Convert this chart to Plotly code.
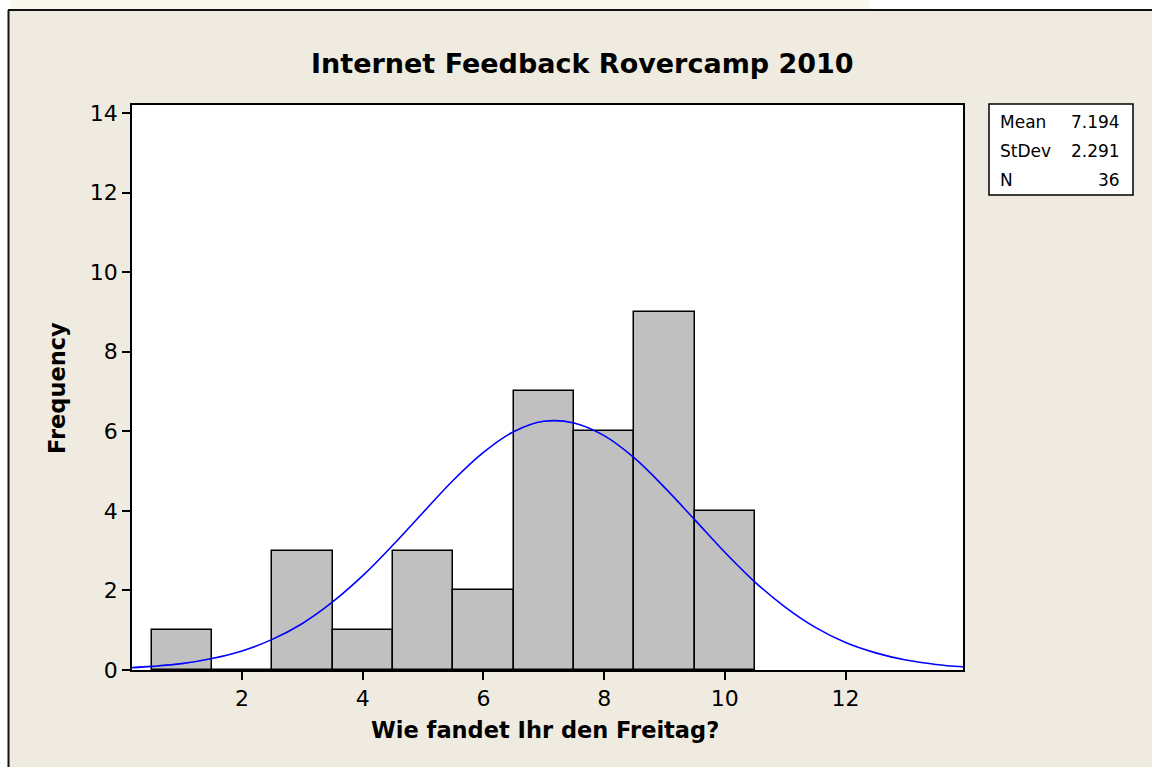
import plotly.graph_objects as go

# Histogram data
bin_centers = [1, 2, 3, 4, 5, 6, 7, 8, 9, 10]
counts = [1, 0, 3, 1, 3, 2, 7, 6, 9, 4]

# Fitted normal curve points
curve_x = [0.18, 0.5, 1, 1.5, 2, 2.5, 3, 3.5, 4, 4.5, 5, 5.5, 6, 6.5, 7, 7.5,
           8, 8.5, 9, 9.5, 10, 10.5, 11, 11.5, 12, 12.5, 13, 13.5, 13.95]
curve_y = [0.06, 0.09, 0.16, 0.29, 0.48, 0.77, 1.17, 1.71, 2.37, 3.14, 3.96, 4.77,
           5.47, 5.99, 6.25, 6.21, 5.89, 5.33, 4.59, 3.78, 2.96, 2.21, 1.58, 1.07,
           0.69, 0.43, 0.25, 0.14, 0.08]

stat_labels = ["Mean", "StDev", "N"]
stat_values = ["7.194", "2.291", "36"]

title_text = "Internet Feedback Rovercamp 2010"
x_title = "Wie fandet Ihr den Freitag?"
y_title = "Frequency"

BG = "#EFEBE1"
FONT = "DejaVu Sans"

# plot area in page pixels
L, R, T, B = 132, 963, 105, 670
W, H = 1152, 767

def px(xp):
    return (xp - L) / (R - L)
def py(yp):
    return (B - yp) / (B - T)

fig = go.Figure()
fig.add_trace(go.Bar(
    x=bin_centers, y=counts, width=1,
    marker=dict(color="#C0C0C0", line=dict(color="black", width=1.5)),
    showlegend=False, hoverinfo="x+y"))
fig.add_trace(go.Scatter(
    x=curve_x, y=curve_y, mode="lines", line=dict(color="#0000FF", width=1.6, shape="spline"),
    showlegend=False))

shapes = []
# white margins outside the frame and cream strip above it
shapes.append(dict(type="rect", xref="paper", yref="paper", x0=px(-5), x1=px(1160),
                   y0=py(10), y1=py(-5), fillcolor="white", line=dict(width=0), layer="above"))
shapes.append(dict(type="rect", xref="paper", yref="paper", x0=px(-5), x1=px(8),
                   y0=py(780), y1=py(-5), fillcolor="white", line=dict(width=0), layer="above"))
shapes.append(dict(type="rect", xref="paper", yref="paper", x0=px(10), x1=px(870),
                   y0=py(9.5), y1=py(-5), fillcolor="#FAF7EC", line=dict(width=0), layer="above"))
# frame border
shapes.append(dict(type="line", xref="paper", yref="paper", x0=px(8), x1=px(1160),
                   y0=py(10), y1=py(10), line=dict(color="#111111", width=2), layer="above"))
shapes.append(dict(type="line", xref="paper", yref="paper", x0=px(8.5), x1=px(8.5),
                   y0=py(10), y1=py(780), line=dict(color="#111111", width=2), layer="above"))
# stats box
shapes.append(dict(type="rect", xref="paper", yref="paper", x0=px(989), x1=px(1133),
                   y0=py(195), y1=py(104), fillcolor="white",
                   line=dict(color="black", width=1.5), layer="above"))

annotations = []
rows_y = [122, 151, 180]
for lab, val, yy in zip(stat_labels, stat_values, rows_y):
    annotations.append(dict(xref="paper", yref="paper", x=px(998), y=py(yy), text=lab,
                            showarrow=False, xanchor="left", yanchor="middle",
                            font=dict(family=FONT, size=17, color="black")))
    annotations.append(dict(xref="paper", yref="paper", x=px(1122), y=py(yy), text=val,
                            showarrow=False, xanchor="right", yanchor="middle",
                            font=dict(family=FONT, size=17, color="black")))
annotations.append(dict(xref="paper", yref="paper", x=px(582), y=py(64), text="<b>" + title_text + "</b>",
                        showarrow=False, xanchor="center", yanchor="middle",
                        font=dict(family=FONT, size=27, color="black")))
annotations.append(dict(xref="paper", yref="paper", x=px(545), y=py(730), text="<b>" + x_title + "</b>",
                        showarrow=False, xanchor="center", yanchor="middle",
                        font=dict(family=FONT, size=22.5, color="black")))
annotations.append(dict(xref="paper", yref="paper", x=px(57), y=py(388), text="<b>" + y_title + "</b>",
                        showarrow=False, xanchor="center", yanchor="middle", textangle=-90,
                        font=dict(family=FONT, size=22.5, color="black")))

fig.update_layout(
    width=W, height=H,
    margin=dict(l=L, r=W - R, t=T, b=H - B),
    paper_bgcolor=BG, plot_bgcolor="white",
    shapes=shapes, annotations=annotations,
    bargap=0,
    xaxis=dict(range=[0.176, 13.947], tickmode="array", tickvals=[2, 4, 6, 8, 10, 12],
               ticks="outside", ticklen=8, tickwidth=1.5, tickcolor="black",
               showline=True, linecolor="black", linewidth=1.5, mirror=True,
               showgrid=False, zeroline=False,
               tickfont=dict(family=FONT, size=22, color="black")),
    yaxis=dict(range=[0, 14.2], tickmode="array", tickvals=[0, 2, 4, 6, 8, 10, 12, 14],
               ticks="outside", ticklen=8, tickwidth=1.5, tickcolor="black",
               showline=True, linecolor="black", linewidth=1.5, mirror=True,
               showgrid=False, zeroline=False,
               tickfont=dict(family=FONT, size=22, color="black")),
)

fig.write_html("out.html", config={"displayModeBar": False},
               post_script="document.body.style.margin='0';document.body.style.overflow='hidden';")
